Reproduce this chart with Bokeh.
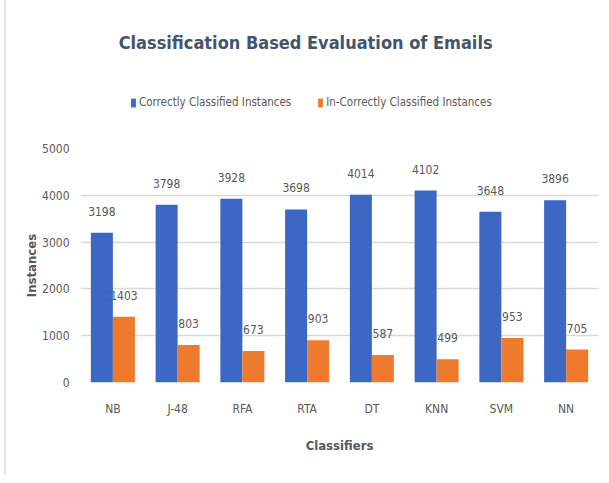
from bokeh.plotting import figure
from bokeh.layouts import column
from bokeh.models import ColumnDataSource, FactorRange, Range1d, Legend, LegendItem, LabelSet, Label, FixedTicker
from bokeh.core.properties import value
from bokeh.transform import dodge
from bokeh.embed import file_html
from bokeh.resources import INLINE

classifiers = ["NB", "J-48", "RFA", "RTA", "DT", "KNN", "SVM", "NN"]
correct = [3198, 3798, 3928, 3698, 4014, 4102, 3648, 3896]
incorrect = [1403, 803, 673, 903, 587, 499, 953, 705]
y_ticks = [0, 1000, 2000, 3000, 4000, 5000]
series_names = ["Correctly Classified Instances", "In-Correctly Classified Instances"]

FONT = "DejaVu Sans Condensed, Liberation Sans Narrow, Liberation Sans, sans-serif"
GRAY = "#595959"
BLUE = "#3C68C4"
ORANGE = "#EE7A2E"

# ---------- header: title + legend ----------
h = figure(width=595, height=136, x_range=Range1d(0, 1), y_range=Range1d(0, 1),
           output_backend="svg", toolbar_location=None,
           x_axis_location=None, y_axis_location=None,
           min_border_left=0, min_border_right=0, min_border_top=0, min_border_bottom=0)
h.outline_line_color = None
h.grid.visible = False
h.add_layout(Label(x=0.44, y=0.69, text="Classification  Based Evaluation of Emails",
                   text_align="center", text_baseline="middle", text_font=FONT,
                   text_font_size="18px", text_font_style="bold", text_color="#44546A"))
# legend proxies (zero-size, invisible marks)
hr1 = h.vbar(x=[0], top=[0], width=0, fill_color=BLUE, line_color=None)
hr2 = h.vbar(x=[0], top=[0], width=0, fill_color=ORANGE, line_color=None)
legend = Legend(items=[LegendItem(label=series_names[0], renderers=[hr1]),
                       LegendItem(label=series_names[1], renderers=[hr2])],
                orientation="horizontal", location=(50, 27),
                label_text_font=FONT, label_text_font_size="11.5px", label_text_color=GRAY,
                glyph_width=6, glyph_height=11, spacing=26, label_standoff=3,
                border_line_color=None, background_fill_alpha=0, padding=0, margin=0)
h.add_layout(legend, "center")

# ---------- main chart ----------
src = ColumnDataSource(dict(cat=classifiers, correct=correct, incorrect=incorrect,
                            correct_txt=[str(v) for v in correct],
                            incorrect_txt=[str(v) for v in incorrect]))

p = figure(x_range=FactorRange(*classifiers), y_range=Range1d(0, 5000),
           frame_width=518, frame_height=234, output_backend="svg", toolbar_location=None,
           min_border_left=74, min_border_right=3, min_border_top=12, min_border_bottom=93)
p.outline_line_color = None
p.x_range.range_padding = 0
p.x_range.group_padding = 0

w = 0.34
p.vbar(x=dodge("cat", -w / 2, range=p.x_range), top="correct", width=w, source=src,
       fill_color=BLUE, line_color=None)
p.vbar(x=dodge("cat", w / 2, range=p.x_range), top="incorrect", width=w, source=src,
       fill_color=ORANGE, line_color=None)

for col, off in (("correct", -w / 2), ("incorrect", w / 2)):
    p.add_layout(LabelSet(x=dodge("cat", off, range=p.x_range), y=col, text=col + "_txt",
                          source=src, text_align="center", text_baseline="bottom", y_offset=17,
                          text_font=value(FONT), text_font_size="12px", text_color=GRAY))

p.xgrid.grid_line_color = None
p.ygrid.grid_line_color = "#D9D9D9"
p.ygrid.grid_line_width = 1.5
p.yaxis.ticker = FixedTicker(ticks=y_ticks)

for ax in (p.xaxis[0], p.yaxis[0]):
    ax.axis_line_color = None
    ax.major_tick_line_color = None
    ax.minor_tick_line_color = None
    ax.major_label_text_font = FONT
    ax.major_label_text_font_size = "12px"
    ax.major_label_text_color = GRAY
    ax.axis_label_text_font = FONT
    ax.axis_label_text_font_size = "13px"
    ax.axis_label_text_font_style = "bold"
    ax.axis_label_text_color = GRAY

p.xaxis.axis_label = "Classifiers"
p.yaxis.axis_label = "Instances"
p.xaxis.major_label_standoff = 13
p.xaxis.axis_label_standoff = 19
p.yaxis.major_label_standoff = 5
p.yaxis.axis_label_standoff = 0

layout = column(h, p, spacing=0, margin=(0, 0, 0, 4),
                styles={"border-left": "2px solid #E2E5EB"})
open("out.html", "w").write(file_html(layout, INLINE))
